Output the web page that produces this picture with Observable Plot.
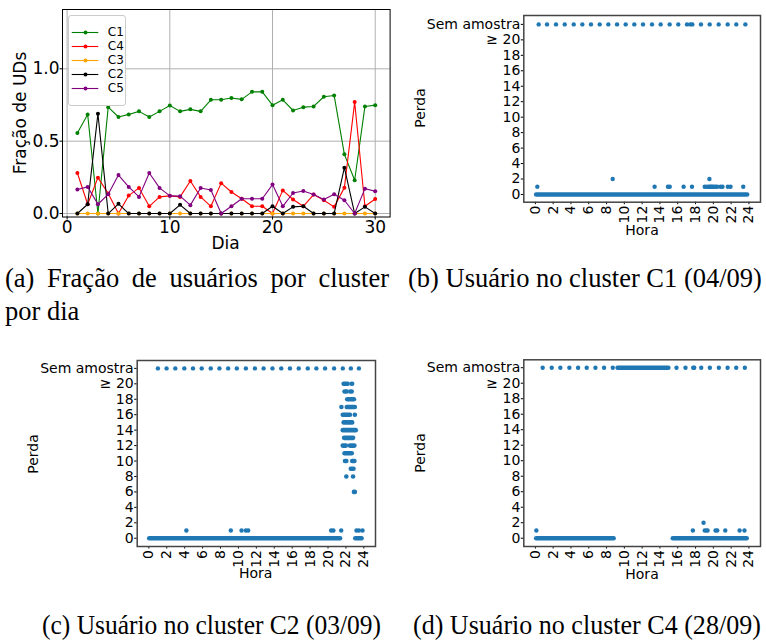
<!DOCTYPE html>
<html>
<head>
<meta charset="utf-8">
<script src="https://cdn.jsdelivr.net/npm/d3@7"></script>
<script src="https://cdn.jsdelivr.net/npm/@observablehq/plot@0.6"></script>
<style>
html,body{margin:0;padding:0;background:#fff;}
#root{position:relative;width:766px;height:641px;overflow:hidden;background:#fff;}
.panel{position:absolute;}
.panel svg{overflow:visible;display:block;}
.lbl{position:absolute;font-family:"DejaVu Sans";color:#000;white-space:nowrap;line-height:1;transform:translate(-50%,-50%);}
.lbl.rot{transform:translate(-50%,-50%) rotate(-90deg);}
#legend{position:absolute;left:68px;top:15px;width:58px;height:91px;border:1px solid #cccccc;border-radius:3px;background:rgba(255,255,255,0.85);box-sizing:border-box;}
#legend svg{display:block;overflow:visible;}
#caps{position:absolute;left:0;top:0;pointer-events:none;}
</style>
</head>
<body>
<div id="root"></div>
<script>
// ---------------- Panel (a): fraction of UDs per cluster per day ----------------
const days = [1,2,3,4,5,6,7,8,9,10,11,12,13,14,15,16,17,18,19,20,21,22,23,24,25,26,27,28,29,30];
const seriesNames = ["C1", "C4", "C3", "C2", "C5"];
const seriesColors = ["green", "red", "orange", "black", "purple"];
const fracC1 = [0.556,0.685,0.0,0.735,0.667,0.685,0.706,0.667,0.706,0.747,0.706,0.72,0.706,0.786,0.786,0.798,0.789,0.841,0.841,0.749,0.786,0.712,0.735,0.74,0.807,0.816,0.409,0.23,0.74,0.749];
const fracC4 = [0.28,0.064,0.248,0.138,0.0,0.124,0.177,0.05,0.115,0.122,0.115,0.225,0.115,0.05,0.21,0.149,0.102,0.05,0.05,0.0,0.16,0.097,0.05,0.131,0.092,0.046,0.179,0.77,0.05,0.1];
const fracC3 = [0,0,0,0,0,0,0,0,0,0,0,0,0,0,0,0,0,0,0,0,0,0,0,0,0,0,0,0,0,0];
const fracC2 = [0,0.064,0.69,0,0.067,0,0,0,0,0,0.06,0,0,0,0,0,0,0,0,0.05,0,0.046,0.05,0,0,0,0.317,0,0.046,0];
const fracC5 = [0.166,0.184,0.064,0.133,0.266,0.184,0.115,0.28,0.177,0.122,0.12,0.058,0.177,0.163,0.0,0.05,0.102,0.102,0.102,0.2,0.05,0.142,0.156,0.131,0.097,0.133,0.092,0.0,0.172,0.154];
const seriesValues = [fracC1, fracC4, fracC3, fracC2, fracC5];
const dayTicks = [0, 10, 20, 30];
const fracTicks = [0, 0.5, 1.0];

// ---------------- Panels (b)-(d): loss per hour ----------------
const hourTicks = [0,2,4,6,8,10,12,14,16,18,20,22,24];
const lossTicks = [0,2,4,6,8,10,12,14,16,18,20,22];
const lossTickLabels = ["0","2","4","6","8","10","12","14","16","18","≥ 20","Sem amostra"];
const NO_SAMPLE = 22;

// (b) user in cluster C1 (04/09)
const bNoSampleHours = [0.37,1.31,2.32,3.3,4.31,5.28,6.25,7.23,8.2,9.18,10.15,11.12,12.1,13.11,14.08,15.09,16.06,17.04,17.42,17.64,18.61,19.59,20.6,21.61,22.58,23.6];
const bLoss1Hours = [0.22,13.4,14.9,15.1,16.66,17.6,19.03,19.25,19.48,19.62,19.75,19.9,20.05,20.25,20.43,20.8,21.03,21.63,21.93,23.36];
const bLoss2Hours = [8.69,19.56];
const bZeroRuns = [[0.15,23.85]];
const bNoSampleRuns = [];
const bHighRuns = [];

// (c) user in cluster C2 (03/09)
const cNoSampleHours = [1.01,1.98,2.95,3.96,4.93,5.9,6.91,7.88,8.85,9.82,10.83,11.84,12.81,13.8,14.78,15.75,16.73,17.74,18.7,19.67,20.68,21.65,22.55,23.45];
const cLoss1Hours = [4.19,9.15,10.35,10.83,11.09,20.35,20.6,21.47,23.18,23.45,23.85];
const cLoss2Hours = [];
const cZeroRuns = [[0.1,21.4],[23.1,23.8]];
const cNoSampleRuns = [];
// [loss level, first hour, last hour]
const cHighRuns = [
  [20,21.8,22.25],[20,22.7,22.75],
  [19,21.9,22.15],[19,22.55,22.7],
  [18,22.2,22.95],
  [17,21.55,21.55],[17,22.15,23.05],
  [16,21.7,22.5],[16,23.05,23.05],
  [15,21.8,22.75],
  [14,21.7,23.15],
  [13,21.85,22.85],
  [12,21.7,22.05],[12,22.5,23.0],
  [11,21.9,22.7],
  [10,21.95,22.1],[10,22.75,23.0],
  [9,22.6,22.9],
  [8,22.1,22.1],[8,22.85,22.85],
  [6,22.95,23.05]
];

// (d) user in cluster C4 (28/09)
const dNoSampleHours = [0.82,1.84,2.81,3.82,4.8,5.77,6.75,7.72,8.7,15.86,16.87,17.74,17.85,18.64,19.61,20.62,21.6,22.57,23.54];
const dLoss1Hours = [0.11,17.7,20.25,20.44,21.34,22.95,23.5];
const dLoss2Hours = [18.9];
const dZeroRuns = [[0.15,8.85],[15.5,23.8]];
const dNoSampleRuns = [[9.3,15.0]];
const dHighRuns = [[1,19.1,19.4]];

// ---------------- Rendering ----------------
const root = document.getElementById("root");
const blue = "#1f77b4";

function place(el, left, top) {
  const d = document.createElement("div");
  d.className = "panel";
  d.style.left = left + "px";
  d.style.top = top + "px";
  d.appendChild(el);
  root.appendChild(d);
  return d;
}

// Panel (a)
const aMarks = [
  Plot.gridX(dayTicks, {stroke: "#b0b0b0", strokeOpacity: 1, strokeWidth: 1}),
  Plot.gridY(fracTicks, {stroke: "#b0b0b0", strokeOpacity: 1, strokeWidth: 1})
];
seriesNames.forEach((name, k) => {
  const rows = days.map((d, i) => ({day: d, value: seriesValues[k][i]}));
  aMarks.push(Plot.line(rows, {x: "day", y: "value", stroke: seriesColors[k], strokeWidth: 1.1}));
  aMarks.push(Plot.dot(rows, {x: "day", y: "value", r: 2, fill: seriesColors[k], stroke: "none"}));
});
aMarks.push(
  Plot.axisX({ticks: dayTicks, tickSize: 3, tickPadding: 0.5, fontSize: 17, label: null}),
  Plot.axisY({ticks: fracTicks, tickFormat: d3.format(".1f"), tickSize: 2.5, tickPadding: 0.5, fontSize: 17, label: null}),
  Plot.frame({stroke: "#000", strokeWidth: 1})
);
const plotA = Plot.plot({
  width: 395, height: 250,
  marginLeft: 62, marginRight: 5.4, marginTop: 9, marginBottom: 33.5,
  x: {domain: [-0.45, 31.45]},
  y: {domain: [-0.024, 1.41]},
  style: {fontFamily: "DejaVu Sans", color: "#000", background: "none", overflow: "visible"},
  marks: aMarks
});
place(plotA, 0, 0);

// Legend of panel (a)
const legendBox = document.createElement("div");
legendBox.id = "legend";
const colorOf = Object.fromEntries(seriesNames.map((n, i) => [n, seriesColors[i]]));
const legendPlot = Plot.plot({
  width: 56, height: 89, margin: 0,
  x: {domain: [0, 1], range: [2.7, 29.3], axis: null},
  y: {type: "point", domain: seriesNames, range: [9, 79], axis: null},
  color: {type: "identity"},
  style: {fontFamily: "DejaVu Sans", color: "#000", background: "none", overflow: "visible"},
  marks: [
    Plot.ruleY(seriesNames, {y: d => d, x1: 0, x2: 1, stroke: d => colorOf[d], strokeWidth: 1.1}),
    Plot.dot(seriesNames, {x: 0.5, y: d => d, r: 2, fill: d => colorOf[d], stroke: "none"}),
    Plot.text(seriesNames, {x: 1, y: d => d, text: d => d, dx: 9, textAnchor: "start", fontSize: 12, fill: "#000"})
  ]
});
legendBox.appendChild(legendPlot);
root.appendChild(legendBox);

// Loss panels
function lossPanel(cfg) {
  const points = [];
  cfg.noSample.forEach(h => points.push({hour: h, level: NO_SAMPLE}));
  cfg.loss1.forEach(h => points.push({hour: h, level: 1}));
  cfg.loss2.forEach(h => points.push({hour: h, level: 2}));
  const runs = [];
  cfg.zeroRuns.forEach(([a, b]) => runs.push({level: 0, start: a, end: b}));
  cfg.noSampleRuns.forEach(([a, b]) => runs.push({level: NO_SAMPLE, start: a, end: b}));
  cfg.highRuns.forEach(([l, a, b]) => runs.push({level: l, start: a, end: b}));
  return Plot.plot({
    width: cfg.width, height: cfg.height,
    marginLeft: cfg.ml, marginRight: cfg.mr, marginTop: cfg.mt, marginBottom: cfg.mb,
    x: {domain: cfg.xDomain},
    y: {domain: cfg.yDomain},
    style: {fontFamily: "DejaVu Sans", color: "#000", background: "none", overflow: "visible"},
    marks: [
      Plot.ruleY(runs, {y: "level", x1: "start", x2: "end", stroke: blue, strokeWidth: 4.6, strokeLinecap: "round"}),
      Plot.dot(points, {x: "hour", y: "level", r: 2.2, fill: blue, stroke: "none"}),
      Plot.axisY({ticks: lossTicks, tickFormat: d => lossTickLabels[lossTicks.indexOf(d)], tickSize: 2.5, tickPadding: 1, fontSize: 14, label: null}),
      Plot.axisX({ticks: hourTicks, tickRotate: -90, tickSize: 2.5, tickPadding: 1, fontSize: 14, label: null}),
      Plot.frame({stroke: "#444", strokeWidth: 1.5})
    ]
  });
}

place(lossPanel({
  width: 376, height: 250, ml: 133.3, mr: 6, mt: 15, mb: 48.3,
  xDomain: [-1.3, 25.3], yDomain: [-1.0, 23.15],
  noSample: bNoSampleHours, loss1: bLoss1Hours, loss2: bLoss2Hours,
  zeroRuns: bZeroRuns, noSampleRuns: bNoSampleRuns, highRuns: bHighRuns
}), 390, 0);

place(lossPanel({
  width: 390, height: 250, ml: 136.7, mr: 15, mt: 20, mb: 44,
  xDomain: [-1.3, 25.3], yDomain: [-1.07, 23.02],
  noSample: cNoSampleHours, loss1: cLoss1Hours, loss2: cLoss2Hours,
  zeroRuns: cZeroRuns, noSampleRuns: cNoSampleRuns, highRuns: cHighRuns
}), 0, 340);

place(lossPanel({
  width: 376, height: 250, ml: 133.3, mr: 6, mt: 19.3, mb: 44,
  xDomain: [-1.3, 25.3], yDomain: [-1.07, 23.02],
  noSample: dNoSampleHours, loss1: dLoss1Hours, loss2: dLoss2Hours,
  zeroRuns: dZeroRuns, noSampleRuns: dNoSampleRuns, highRuns: dHighRuns
}), 390, 340);

// Axis titles
const axisTitles = [
  {text: "Fração de UDs", x: 20, y: 113, size: 17, rot: true},
  {text: "Dia", x: 225.5, y: 243, size: 17, rot: false},
  {text: "Perda", x: 419.5, y: 108, size: 14, rot: true},
  {text: "Hora", x: 642, y: 229.5, size: 14, rot: false},
  {text: "Perda", x: 32.5, y: 453.5, size: 14, rot: true},
  {text: "Hora", x: 255.7, y: 573, size: 14, rot: false},
  {text: "Perda", x: 419.5, y: 453, size: 14, rot: true},
  {text: "Hora", x: 642, y: 573.5, size: 14, rot: false}
];
axisTitles.forEach(t => {
  const s = document.createElement("div");
  s.className = "lbl" + (t.rot ? " rot" : "");
  s.textContent = t.text;
  s.style.left = t.x + "px";
  s.style.top = t.y + "px";
  s.style.fontSize = t.size + "px";
  root.appendChild(s);
});

// Sub-figure captions (each fitted to its width in the reference)
const svgNS = "http://www.w3.org/2000/svg";
const caps = document.createElementNS(svgNS, "svg");
caps.setAttribute("width", 766);
caps.setAttribute("height", 641);
caps.id = "caps";
root.appendChild(caps);
function addCap(str, x, y) {
  const g = document.createElementNS(svgNS, "g");
  const t = document.createElementNS(svgNS, "text");
  t.textContent = str;
  t.setAttribute("font-family", "Liberation Serif");
  t.setAttribute("font-size", 28);
  t.setAttribute("fill", "#000");
  g.appendChild(t);
  caps.appendChild(g);
  return {g, t, x, y};
}
const capA1 = addCap("(a) Fração de usuários por cluster", 5, 287);
const capA2 = addCap("por dia", 5, 320);
const capB = addCap("(b) Usuário no cluster C1 (04/09)", 408, 287);
const capC = addCap("(c) Usuário no cluster C2 (03/09)", 42, 634);
const capD = addCap("(d) Usuário no cluster C4 (28/09)", 413, 634);
const kB = 354 / capB.t.getComputedTextLength();
const kC = 339 / capC.t.getComputedTextLength();
const kD = 348 / capD.t.getComputedTextLength();
[[capA1, kB], [capA2, kB], [capB, kB], [capC, kC], [capD, kD]].forEach(([c, k]) =>
  c.g.setAttribute("transform", `translate(${c.x},${c.y}) scale(${k},1)`));
const natA1 = capA1.t.getComputedTextLength();
capA1.t.style.wordSpacing = ((384 / kB - natA1) / 5) + "px";
</script>
</body>
</html>
